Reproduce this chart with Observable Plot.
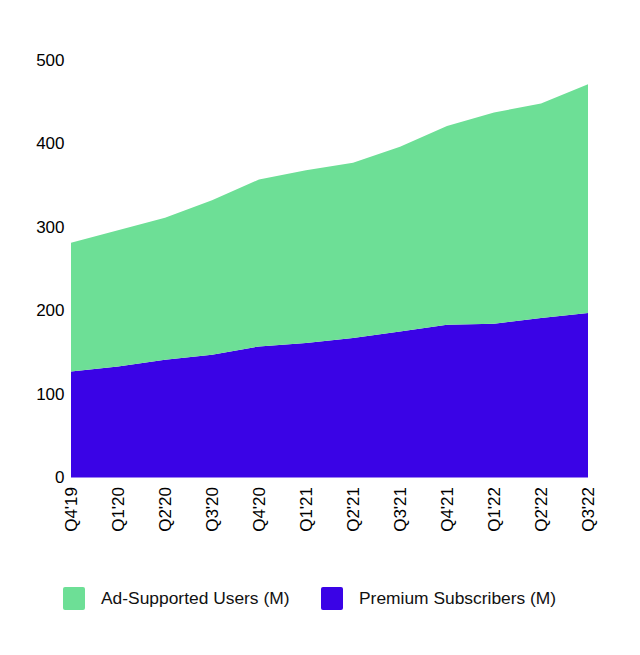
<!DOCTYPE html>
<html>
<head>
<meta charset="utf-8">
<script src="https://cdn.jsdelivr.net/npm/d3@7"></script>
<script src="https://cdn.jsdelivr.net/npm/@observablehq/plot@0.6"></script>
<style>
  html, body { margin: 0; padding: 0; background: #fff; }
  #wrap { position: relative; width: 640px; height: 655px; font-family: "Liberation Sans", Arial, sans-serif; }
  #chart { position: absolute; left: 0; top: 0; }
  .leg { position: absolute; top: 587px; display: flex; align-items: center; font-size: 17.4px; color: #111; }
  .sw { width: 22px; height: 23px; border-radius: 2px; margin-right: 16px; }
</style>
</head>
<body>
<div id="wrap">
  <div id="chart"></div>
  <div class="leg" style="left:63px"><div class="sw" style="background:#6ddf96"></div><span>Ad-Supported Users (M)</span></div>
  <div class="leg" style="left:321px"><div class="sw" style="background:#3a03e6"></div><span>Premium Subscribers (M)</span></div>
</div>
<script>
const quarters = ["Q4'19","Q1'20","Q2'20","Q3'20","Q4'20","Q1'21","Q2'21","Q3'21","Q4'21","Q1'22","Q2'22","Q3'22"];
const premium = [127, 133, 141, 147, 157, 161, 167, 175, 183, 184, 191, 197];
const adSupported = [154, 163, 170, 185, 200, 207, 210, 221, 238, 253, 257, 274];
const seriesNames = ["Premium Subscribers (M)", "Ad-Supported Users (M)"];
const seriesColors = ["#3a03e6", "#6ddf96"];
const yTicks = [0, 100, 200, 300, 400, 500];

const data = [];
quarters.forEach((q, i) => {
  data.push({q, series: seriesNames[0], value: premium[i]});
  data.push({q, series: seriesNames[1], value: adSupported[i]});
});

const chart = Plot.plot({
  width: 640,
  height: 560,
  marginTop: 60,
  marginBottom: 82.5,
  marginLeft: 69,
  marginRight: 50,
  style: {fontFamily: "'Liberation Sans', Arial, sans-serif", fontSize: "17px", color: "#000", background: "#fff"},
  x: {type: "point", domain: quarters, padding: 0, label: null, tickSize: 0, tickRotate: -90, tickPadding: 9},
  y: {domain: [0, 500], ticks: yTicks, label: null, tickSize: 0, tickPadding: 5},
  color: {domain: seriesNames, range: seriesColors},
  marks: [
    Plot.areaY(data, {x: "q", y: "value", fill: "series", order: seriesNames, curve: "linear"})
  ]
});
document.getElementById("chart").appendChild(chart);
</script>
</body>
</html>
